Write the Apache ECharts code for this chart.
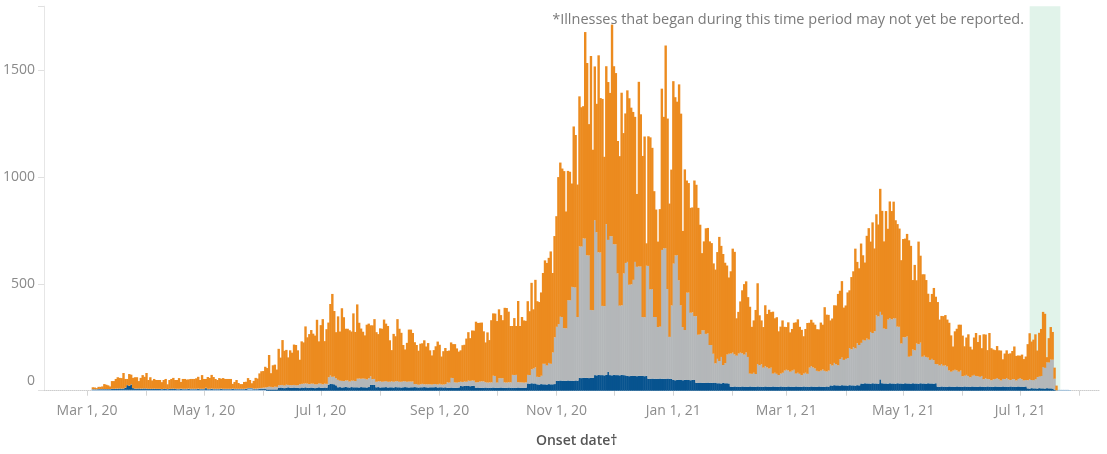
<!DOCTYPE html>
<html>
<head>
<meta charset="utf-8">
<script src="https://cdn.jsdelivr.net/npm/echarts/dist/echarts.min.js"></script>
<style>
html,body{margin:0;padding:0;background:#fff;}
#chart{width:1107px;height:454px;}
</style>
</head>
<body>
<div id="chart"></div>
<script>
// ---- categories (daily onset dates) ----
const axisStart = '2020-02-08';
const axisEnd = '2021-08-11';
const dataStart = '2020-03-04';   // first day with a bar; values below are daily from here
const tickLabels = ['Mar 1, 20','May 1, 20','Jul 1, 20','Sep 1, 20','Nov 1, 20','Jan 1, 21','Mar 1, 21','May 1, 21','Jul 1, 21'];
const shadeFrom = '2021-07-06';
const shadeTo = '2021-07-22';
const noteText = '*Illnesses that began during this time period may not yet be reported.';
const xTitle = 'Onset date\u2020';

// ---- series values (daily, from 2020-03-04 to 2021-07-20) ----
const lightBlue = [
4,4,4,4,4,4,4,4,4,4,4,4,4,4,4,4,4,4,4,4,4,4,4,4,4,4,4,4,4,4,4,4,4,4,4,4,4,4,4,4,4,4,4,4,
4,4,4,4,4,4,4,4,4,4,4,4,4,4,4,4,4,4,4,4,4,4,4,4,4,4,4,4,4,4,4,4,4,4,4,4,4,8,8,8,4,4,4,4,4,4,4,
0,0,0,0,0,0,0,0,0,0,0,0,0,0,0,0,0,0,0,0,0,0,0,0,0,0,0,0,0,0,0,0,0,0,0,0,0,0,0,0,0,0,0,0,0,0,0,
0,0,0,0,0,0,0,0,0,0,0,0,0,0,0,0,0,0,0,0,0,0,0,0,0,0,0,0,0,0,0,0,0,0,0,0,0,0,0,0,0,0,0,0,0,0,0,
0,0,0,0,0,0,0,0,0,0,0,0,0,0,0,0,0,0,0,0,0,0,0,0,0,0,0,0,0,0,0,0,0,0,0,0,0,0,0,0,0,0,0,0,0,0,0,
0,0,0,0,0,0,0,0,0,0,0,0,0,0,0,0,0,0,0,0,0,0,0,0,0,0,0,0,0,0,0,0,0,0,0,0,0,0,0,0,0,0,0,0,0,0,0,
0,0,0,0,0,0,0,0,0,0,0,0,0,0,0,0,0,0,0,0,0,0,0,0,0,0,0,0,0,0,0,0,0,0,0,0,0,0,0,0,0,0,0,0,0,0,0,
0,0,0,0,0,0,0,
0,0,0,0,0,0,0,0,0,0,0,0,0,0,0,0,0,0,0,0,0,0,0,0,0,0,0,0,0,0,0,0,0,0,0,0,0,0,0,0,0,0,0,0,0,0,0,0,0,0,0,0,
0,0,0,0,0,0,0,0,0,0,0,0,0,0,0,0,0,0,0,0,0,0,0,0,0,0,0,0,0,0,0,0,0,0,0,0,0,0,0,0,0,0,0,0,0,0,0,0,0,0,0,0,0,0,0,0,
0,0,0,0,0,0,0,0,0,0,0,0,0,0,0,0,0,0,0,0,0,0,0,0,0,0,0,0,0,0,0,0,0,0,0,0,0,0,0,0,0,0,0,0,0,0,0,
0,0,0,0,0,0,0,0,0,0,0,0,0,0,0,0,4,4,4,4,4,4,3
];

const darkBlue = [
2,2,2,3,3,3,3,3,3,3, 4,4,5,5,6,5,6,10,22,18, 25,8,5,5,6,5,5,6,5,4, 4,4,5,4,4,4,3,4,4,3, 4,4,5,4,
3,3,4,3,3,3,4,3,3,3, 3,4,3,3,3,8,3,3,4,3, 3,3,3,4,3,3,3,3,3,4, 3,3,3,3,3,3,4,3,3,3, 3,3,3,4,4,5,5,
6,6,6,6,6,6, 13,15,14,12,14,16,14,13,15,14, 14,12,15,14,16,13,14,15,14,12, 14,16,14,13,15,14, 28,33,31,30,25, 16,17,15,16,18,16,15,17,16,16,
16,15,17,16,16,15,17,27,27,27, 16,17,15,16,16,17,15,16,16,15, 17,16,16,15,16,17,16,15,16,16, 17,16,15,16,16,17,16,15,16,16, 16,17,15,16,16,15,16,
14,13,15,14,14,13,15, 22,21,23,22,22,21,23,22, 14,15,13,14,14,15,13,14,14,15,14,13,14,15,14,14,13,15,14,14,13,14,15,14,14,13,14, 34,33,35,34,34,
30,29,31,30,30,29,31,30,30,31, 47,46,48,47,47,46,48,47,47,46,48,47, 60,59,61,60,60,59,61,60, 73,72,74,73,73,72,74,89,73,72,74,73,73,72,74,73,72,
69,68,70,69,69,68,70,69,69,68,70, 56,55,57,56,56,55,57,56,56,55,57,56,56, 50,49,51,50,50,49,51,50,50,49,51,50, 37,36,38,37,37,36,38,37,37,36,38,
35,35,34,36,35,35,34,
19,18,20,19,19,18,20,19,19,18, 20,19,19,18,20,19,19,18,20,19, 19,18,20,19,19,18,20,19,19,18, 20,19,19,18,20,19,19,18,20,19, 19,18,20,19,19,18,20,19,19,18, 20,19,
25,24,26,25,25,24,26,25,25,24,26,25,25,24,26,25,
34,33,35,34,34,33,35,34,34,33, 53,35,34,34,33,35,34,34,33,35, 34,34,33,35,34,34,33,35,34,34, 33,35,34,34,33,35,34,34,33,35,
19,18,20,19,19,18,20,19,19,18, 20,19,19,18,20,19,19,18,20,19, 19,18,20,19,19,18,20,19,19,18, 20,19,19,18,20,19,19,18,20,19, 19,18,20,19,19,18,20,
11,10,12,11,11,10,12,11,11,10,12,11,11,10, 5,1
];

const grayVals = [
1,1,1,1,1,1,1,1,1,1,1,1,1,1,1,1,1,1,1,1,1,1,1,1,1,1,1,1,1,1,1,1,1,1,1,1,1,1,1,1,1,1,1,1,
2,2,2,2,2,2,2,2,2,2,2,2,2,2,2,2,2,2,2,2,2,2,2,2,2,2,2,2,2,2,2,2,2,2,2,2,2,2,2,2, 3,3,4,4,5,5,6,
11,13,12,10,13,12, 12,11,13,12,14,11,12,13,12,11,12, 18,17,19,18,20,17,18,19,18,16,18,19,17,18,18, 35,38,34,36,33,35, 30,31,29,30,32,28,30,31,29,
40,42,39,41,40,38,41,40, 27,28,26,27,29,26,27,28,27,26,28,27,27,29,26,27,28,27,26,28,27,27, 14,15,13,14,16,13,14,15,14,13,15,14,14,16,13,14,15,
25,25,45,45,25,25,25,20,20,20, 20,25,25,25,25,25,25,30,30,30, 25,25,25,25,55,55,25,44,44,44, 25,25,25,25,60,60,60,25,25,25, 25,25,40,40,65,70,75,
35,35,39,96,96,89,99,96,149,219, 252,266,298,298,246,246,376,376,439,439,435,298, 616,616,652,652,574,574,317,317, 725,670,574,574,324,324,706,617,651,651,612,612,476,326,326,476,526,
534,428,428,450,534,512,512,512,276,276,515, 528,419,419,289,289,243,243,603,611,611,419,196,343, 545,584,584,467,350,249,233,409,409,316,316,299, 312,226,226,246,246,230,230,177,177,137,90,
114,104,124,84,94,134,139,
155,160,150,145,155,160,155,150,160,140,
60,60,65,60,105,100,105,90,95,90,
85,90,60,65,60,55,60,65,75,80,
75,70,75,80,60,65,60,55,60,65,
60,90,95,90,85,75,70,75,80,75,
70,75,99,94,104,99,94,124,129,119,
124,129,174,169,179,174,196,189,190,205,
200,210,205,242,235,245,320,315,316,320,
257,255,300,305,300,305,305,265,265,187,
218,215,220,125,130,158,155,187,185,190,
125,130,125,120,110,115,110,90,105,100,
105,98,100,95,75,70,75,80,75,70,
75,50,50,55,50,45,50,55,50,50,
45,50,35,40,35,35,30,35,35,40,
35,30,35,35,40,35,30,35,35,30,
35,40,35,30,30,38,43,38,38,43,
54,54,58,100,97,121,121,135,135,51,
1
];

const orangeVals = [
9,8,5,10,10,12,23,20,17,12, 36,36,45,53,49,49,72,40,28,55, 45,47,53,53,34,50,63,54,73,41, 54,39,45,41,41,41,32,41,46,22, 41,46,50,41,
41,50,31,46,46,43,43,46,46,46, 49,55,41,64,46,41,55,51,64,55, 46,41,50,46,50,46,46,46,46,22, 32,41,27,22,22,32,32,46,37,22, 36,50,46,69,78,78,97,
89,148,64,103,103,81, 171,129,210,163,163,129,163,152,189,189,163, 115,199,193,267,217,234,251,234,228,302,197,274,305,199,256, 256,335,388,307,216, 297, 230,340,299,242,242,240,230,315,230,
348,261,235,219,203,256,256,239, 252,280,232,221,248,248,290,269,261,194,146,224,211,290,248,229,170,149,182,243,243,227, 196,183,159,190,190,206,177,193,159,136,159,177,201,183,131,156,169,
147,150,166,159,179,160,143,147,172,172, 202,227,200,234,234,284,277,275,275,234, 186,235,198,291,292,292,288,323,295,272, 349,349,330,264,229,267,229,380,264,306, 291,288,345,299,405,277,410,
354,351,390,425,484,480,492,526,372,474, 518,688,722,695,735,547,605,602,484,752,714,620, 702,652,619,967,900,615,1189,751, 720,601,922,723,969,699,739,739,670,991,833,802,620,700,995,657,700,
803,873,827,786,679,341,864,713, 754,846,105, 607,712,661,589,503,400,550,755,615,950,798,624,636, 854,741,718,917,897,450,752,525,513,491,491,635, 615,594,513,361,416,494,494,485,477,423,439,
500,581,520,520,470,417,357,
385,487,480,175,195,240,295,330,333,280,
313,220,245,300,378,234,205,190,285,250,
275,260,290,255,265,205,220,245,205,200,
225,184,195,220,240,250,220,212,175,205,
238,210,217,210,205,195,197,225,210,298,
266,261,205,220,270,275,334,320,358,245,
250,307,270,338,355,467,381,359,465,396,
365,481,522,423,518,387,472,430,576,487,
408,552,425,546,507,546,460,480,460,390,
459,462,480,545,515,325,400,296,480,407,
386,381,360,299,271,304,338,315,291,215,
225,232,235,220,223,170,113,180,195,220,
215,190,138,175,195,143,123,175,201,160,
195,130,210,205,135,216,150,140,135,150,
135,140,92,120,130,120,125,132,153,115,
110,105,115,100,110,169,216,180,190,210,
124,205,220,258,253,24,114,152,130,52,
22
];

// ---- build axis categories ----
const MONTHS = ['Jan','Feb','Mar','Apr','May','Jun','Jul','Aug','Sep','Oct','Nov','Dec'];
function parseISO(s){ const p = s.split('-').map(Number); return Date.UTC(p[0], p[1]-1, p[2]); }
function toISO(t){ const d = new Date(t); const m = d.getUTCMonth()+1, dd = d.getUTCDate();
  return d.getUTCFullYear() + '-' + (m<10?'0':'') + m + '-' + (dd<10?'0':'') + dd; }
const categories = [];
for (let t = parseISO(axisStart); t <= parseISO(axisEnd); t += 86400000) categories.push(toISO(t));
function fmt(v){ const p = v.split('-').map(Number); return MONTHS[p[1]-1] + ' ' + p[2] + ', ' + String(p[0]).slice(2); }

const pad = categories.indexOf(dataStart);
function padded(arr){ return new Array(pad).fill(null).concat(arr); }

const FONT = '"Open Sans", "Noto Sans", sans-serif';
const chart = echarts.init(document.getElementById('chart'), null, {renderer: 'canvas'});

const common = { type: 'bar', stack: 'cases', barWidth: 2.4, animation: false, emphasis: {disabled: true}, z: 2 };

chart.setOption({
  animation: false,
  grid: { left: 43.6, right: 7.4, top: 6.2, bottom: 63.3, containLabel: false },
  xAxis: {
    type: 'category',
    data: categories,
    boundaryGap: true,
    axisLine: { show: true, lineStyle: { color: '#cdcdcd', type: 'dotted', width: 1 } },
    axisTick: { show: true, alignWithLabel: true, length: 5, lineStyle: { color: '#d4d4d4' },
      interval: function (i, v) { return v.slice(8) === '01'; } },
    axisLabel: { show: true, color: '#8c8c8c', fontSize: 14, fontFamily: FONT, margin: 13,
      interval: function (i, v) { return tickLabels.indexOf(fmt(v)) >= 0; },
      formatter: function (v) { return fmt(v); } },
    splitLine: { show: false }
  },
  yAxis: {
    type: 'value', min: 0, max: 1800, interval: 500,
    axisLine: { show: true, lineStyle: { color: '#e6e6e6' } },
    axisTick: { show: true, length: 6, lineStyle: { color: '#e0e0e0' } },
    splitLine: { show: false },
    axisLabel: { color: '#8a8a8a', fontSize: 14, fontFamily: FONT, margin: 9,
      formatter: function (v) { if (v === 0) return '{z|0}'; return v % 500 === 0 ? String(v) : ''; },
      rich: { z: { color: '#8a8a8a', fontSize: 14, fontFamily: FONT, padding: [0, 0, 19, 0] } } }
  },
  series: [
    { type: 'line', name: 'shade', data: categories.map(function () { return null; }), symbol: 'none', silent: true, z: 1,
      lineStyle: { opacity: 0 },
      markArea: { silent: true, itemStyle: { color: '#e1f3ea', opacity: 1 },
        data: [[{ xAxis: shadeFrom, yAxis: 0 }, { xAxis: shadeTo, yAxis: 1800 }]] } },
    Object.assign({}, common, { name: 'lightblue', data: padded(lightBlue), itemStyle: { color: '#9cc0df' } }),
    Object.assign({}, common, { name: 'blue', data: padded(darkBlue), itemStyle: { color: '#07538f' } }),
    Object.assign({}, common, { name: 'gray', data: padded(grayVals), itemStyle: { color: '#b4b7b9' } }),
    Object.assign({}, common, { name: 'orange', data: padded(orangeVals), itemStyle: { color: '#ec8b1f' } })
  ],
  graphic: [
    { type: 'text', x: 1024, y: 19.5, silent: true,
      style: { text: noteText, align: 'right', verticalAlign: 'middle', fill: '#7a7a7a', font: '14.5px ' + FONT } },
    { type: 'text', x: 576.7, y: 441.5, silent: true,
      style: { text: xTitle, align: 'center', verticalAlign: 'middle', fill: '#555555', font: '600 14px ' + FONT } }
  ]
});
</script>
</body>
</html>
